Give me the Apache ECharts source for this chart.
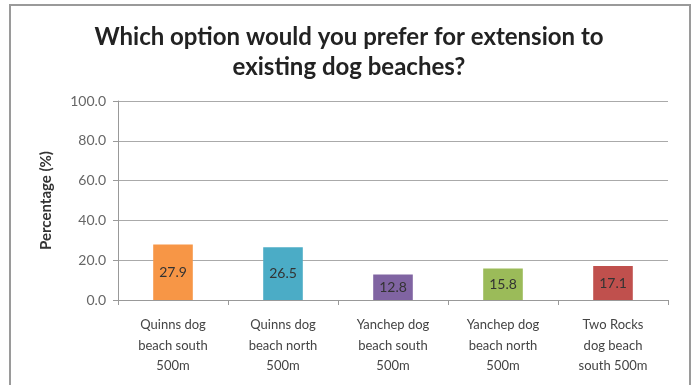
<!DOCTYPE html>
<html>
<head>
<meta charset="utf-8">
<script src="https://cdn.jsdelivr.net/npm/echarts@6/dist/echarts.min.js"></script>
<style>
html,body{margin:0;padding:0;background:#fff;}
#chart{width:698px;height:385px;}
</style>
</head>
<body>
<div id="chart"></div>
<script>
// Survey result: preferred dog beach extension
const categories = [
  'Quinns dog\nbeach south\n500m',
  'Quinns dog\nbeach north\n500m',
  'Yanchep dog\nbeach south\n500m',
  'Yanchep dog\nbeach north\n500m',
  'Two Rocks\ndog beach\nsouth 500m'
];
const values = [27.9, 26.5, 12.8, 15.8, 17.1];
const barColors = ['#F79646', '#4BACC6', '#8064A2', '#9BBB59', '#C0504D'];

const font = 'Lato, "Open Sans", sans-serif';
const chart = echarts.init(document.getElementById('chart'));
chart.setOption({
  backgroundColor: '#fff',
  animation: false,
  graphic: [{
    type: 'rect',
    shape: { x: 10, y: 5, width: 680, height: 390 },
    style: { fill: 'none', stroke: '#9a9a9a', lineWidth: 2 },
    silent: true
  }],
  title: {
    text: 'Which option would you prefer for extension to\nexisting dog beaches?',
    left: 'center',
    top: 17,
    textStyle: { fontFamily: font, fontSize: 24, fontWeight: 'bold', color: '#222', lineHeight: 30 }
  },
  grid: { left: 118, right: 30, top: 101, bottom: 85, containLabel: false },
  xAxis: {
    type: 'category',
    data: categories,
    axisLine: { lineStyle: { color: '#999' } },
    axisTick: { show: true, alignWithLabel: false, lineStyle: { color: '#999' } },
    axisLabel: { fontFamily: font, fontSize: 13, color: '#444', lineHeight: 20.5, margin: 15, interval: 0 }
  },
  yAxis: {
    type: 'value',
    min: 0, max: 100, interval: 20,
    name: 'Percentage (%)',
    nameLocation: 'middle',
    nameGap: 64,
    nameTextStyle: { fontFamily: font, fontSize: 15, color: '#333', fontWeight: 'bold' },
    axisLine: { show: true, lineStyle: { color: '#999' } },
    axisTick: { show: true, lineStyle: { color: '#999' } },
    axisLabel: { fontFamily: font, fontSize: 14, color: '#666', margin: 12, formatter: v => v.toFixed(1) },
    splitLine: { lineStyle: { color: '#aaa' } }
  },
  series: [{
    type: 'bar',
    data: values.map((v, i) => ({ value: v, itemStyle: { color: barColors[i] } })),
    barWidth: '36%',
    label: {
      show: true,
      position: 'inside',
      fontFamily: font,
      fontSize: 14,
      color: '#333',
      formatter: p => p.value.toFixed(1)
    }
  }]
});
</script>
</body>
</html>
